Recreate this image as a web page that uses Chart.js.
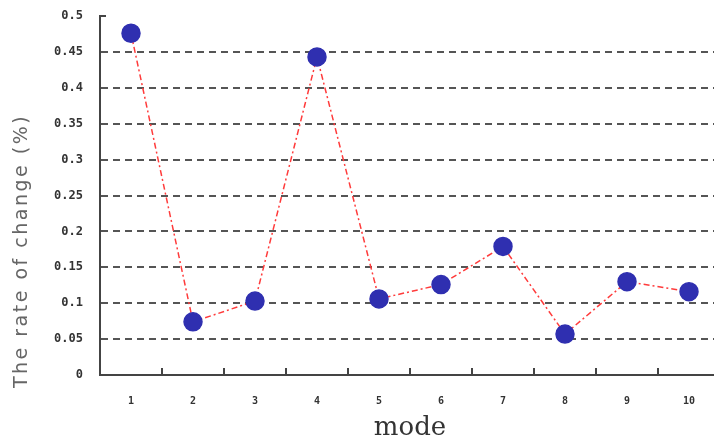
<!DOCTYPE html>
<html>
<head>
<meta charset="utf-8">
<script src="https://cdn.jsdelivr.net/npm/chart.js@4.4.0/dist/chart.umd.min.js"></script>
<style>
  html, body { margin: 0; padding: 0; background: #fff; overflow: hidden; }
  canvas { display: block; }
</style>
</head>
<body>
<!-- slightly wider than the window: the original plot runs off its right edge -->
<canvas id="rate-chart" width="720" height="441"></canvas>
<script>
// categories (mode) and measured rate of change
const modes = ['1', '2', '3', '4', '5', '6', '7', '8', '9', '10'];
const rateValues = [0.476, 0.074, 0.103, 0.443, 0.106, 0.126, 0.179, 0.057, 0.130, 0.116];
const yTickValues = [0, 0.05, 0.1, 0.15, 0.2, 0.25, 0.3, 0.35, 0.4, 0.45, 0.5];
const xTitle = 'mode';
const yTitle = 'The rate of change (%)';

document.addEventListener('DOMContentLoaded', function () {
    const ctx = document.getElementById('rate-chart').getContext('2d');

    // small inward tick marks like the original plot
    const innerTicks = {
        id: 'innerTicks',
        afterDraw(chart) {
            const c = chart.ctx;
            const x = chart.scales.x;
            const y = chart.scales.y;
            const area = chart.chartArea;
            c.save();
            c.strokeStyle = '#444';
            c.lineWidth = 2;
            for (let i = 1; i < modes.length; i++) {
                const px = Math.round((x.getPixelForValue(i - 1) + x.getPixelForValue(i)) / 2);
                c.beginPath();
                c.moveTo(px, area.bottom);
                c.lineTo(px, area.bottom - 7);
                c.stroke();
            }
            const topY = y.getPixelForValue(0.5);
            c.beginPath();
            c.moveTo(area.left, topY);
            c.lineTo(area.left + 6, topY);
            c.stroke();

            // y axis title
            c.translate(22, 251);
            c.rotate(-Math.PI / 2);
            c.font = '19px "DejaVu Sans"';
            c.letterSpacing = '2.5px';
            c.fillStyle = '#666';
            c.textAlign = 'center';
            c.textBaseline = 'middle';
            c.fillText(yTitle, 0, 0);
            c.restore();
        }
    };

    new Chart(ctx, {
        type: 'line',
        data: {
            labels: modes,
            datasets: [{
                data: rateValues,
                borderColor: '#ff3b3b',
                borderWidth: 1.5,
                borderDash: [6, 3, 2, 3],
                pointBackgroundColor: '#2f2fb0',
                pointBorderColor: '#2f2fb0',
                pointRadius: 9,
                pointHoverRadius: 9,
                tension: 0,
                fill: false
            }]
        },
        options: {
            responsive: false,
            animation: false,
            devicePixelRatio: 1,
            layout: { autoPadding: false, padding: { top: 16, right: 0, left: 0, bottom: 0 } },
            plugins: {
                legend: { display: false },
                tooltip: { enabled: false }
            },
            scales: {
                x: {
                    type: 'category',
                    offset: true,
                    grid: { display: false, drawTicks: false },
                    border: { display: true, color: '#444', width: 2 },
                    ticks: {
                        padding: 20,
                        color: '#333',
                        font: { family: 'DejaVu Sans Mono', size: 10, weight: 'bold' }
                    },
                    title: {
                        display: true,
                        text: xTitle,
                        color: '#333',
                        font: { family: 'DejaVu Serif', size: 26, lineHeight: 1 },
                        padding: { top: -3, bottom: 0 }
                    },
                    afterFit(scale) {
                        scale.height = 66;
                        scale.paddingLeft = 0;
                        scale.paddingRight = 0;
                    }
                },
                y: {
                    min: 0,
                    max: 0.5,
                    afterBuildTicks(scale) {
                        scale.ticks = yTickValues.map(v => ({ value: v }));
                    },
                    grid: {
                        drawTicks: false,
                        lineWidth: 2,
                        color(c) {
                            const v = c.tick ? c.tick.value : 0;
                            return (v < 0.001 || v > 0.499) ? 'rgba(0,0,0,0)' : '#555';
                        }
                    },
                    border: { display: true, color: '#444', width: 2, dash: [7, 5] },
                    ticks: {
                        padding: 17,
                        color: '#333',
                        font: { family: 'DejaVu Sans Mono', size: 12, weight: 'bold' },
                        callback: v => String(v)
                    },
                    afterFit(scale) {
                        scale.width = 100;
                        scale.paddingTop = 0;
                        scale.paddingBottom = 0;
                    }
                }
            }
        },
        plugins: [innerTicks]
    });
});
</script>
</body>
</html>
